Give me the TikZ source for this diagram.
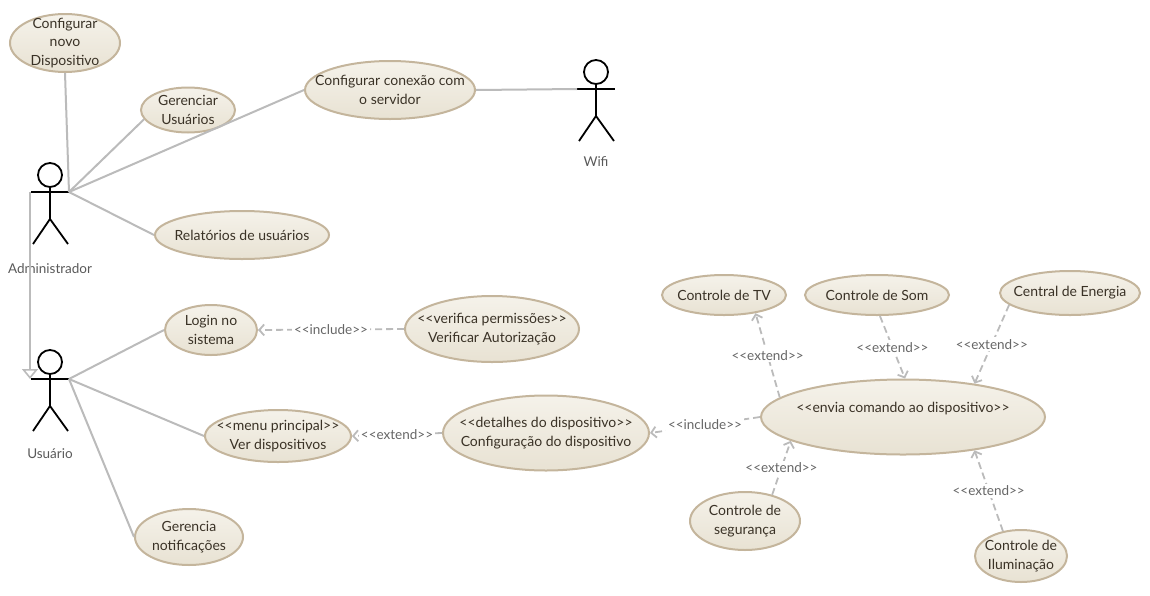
\documentclass[tikz,border=0pt]{standalone}
\usepackage{fontspec}
\setmainfont{Lato}
\usetikzlibrary{shapes.geometric,arrows.meta}

\definecolor{ucfilltop}{HTML}{F5F2EA}
\definecolor{ucfillbot}{HTML}{E8E2D3}
\definecolor{ucline}{HTML}{C4B59C}
\definecolor{uctext}{HTML}{3A3226}
\definecolor{linkgray}{HTML}{BBBBBB}
\definecolor{labelgray}{HTML}{666666}

\tikzset{
  % use case: an ellipse of a given size, text set as a centred label
  usecase/.style 2 args={ellipse, draw=ucline, line width=2pt,
    top color=ucfilltop, bottom color=ucfillbot, inner sep=0pt,
    minimum width=#1pt, minimum height=#2pt},
  uctext/.style={align=center, text=uctext, inner sep=0pt,
    font=\fontsize{14}{18.5}\selectfont},
  assoc/.style={draw=linkgray, line width=2pt},
  depend/.style={draw=linkgray, line width=1.8pt, dash pattern=on 7pt off 4pt,
    -{Straight Barb[length=5pt,width=11pt,line width=1.8pt]}},
  deplabel/.style={fill=white, inner sep=2pt, text=labelgray,
    font=\fontsize{13.5}{15}\selectfont},
  generalize/.style={draw=linkgray, line width=2pt,
    -{Triangle[open,length=10pt,width=16pt,line width=1.6pt,fill=white]}},
  actorline/.style={draw=black, line width=1.8pt},
  actorlabel/.style={text=black!65, font=\fontsize{13.5}{16}\selectfont},
  actor/.pic={
    \node[circle, actorline, minimum size=24pt, inner sep=0pt] (-head) at (0,12) {};
    \draw[actorline] (-head.south) -- (0,56);
    \draw[actorline] (-19,29) -- (19,29);
    \draw[actorline] (-17,81) -- (0,56) -- (18,81);
    \coordinate (-hand) at (19,29);
    \coordinate (-lhand) at (-19,29);
  }
}

\begin{document}
\begin{tikzpicture}[x=1pt,y=-1pt]
\useasboundingbox (0,0) rectangle (1150,595);

% actors
\pic (adm) at (50,163) {actor};
\node[actorlabel] (admlabel) at (50,269) {Administrador};
\pic (usr) at (50,350) {actor};
\node[actorlabel] (usrlabel) at (50,454) {Usuário};
\pic (wifi) at (596,60) {actor};
\node[actorlabel] (wifilabel) at (596,162) {Wifi};

% use cases
\node[usecase={110}{58}, label={[uctext]center:{Configurar\\novo\\Dispositivo}}] (novo) at (65,43) {};
\node[usecase={94}{45}, label={[uctext]center:{Gerenciar\\Usuários}}] (ger) at (188,110) {};
\node[usecase={170}{58}, label={[uctext]center:{Configurar conexão com\\o servidor}}] (conn) at (390,90) {};
\node[usecase={174}{48}, label={[uctext]center:{Relatórios de usuários}}] (rel) at (242,235) {};
\node[usecase={92}{50}, label={[uctext]center:{Login no\\sistema}}] (login) at (211,330) {};
\node[usecase={174}{66}, label={[uctext]center:{<{}<verifica permissões>{}>\\Verificar Autorização}}] (verif) at (492,329) {};
\node[usecase={146}{52}, label={[uctext]center:{<{}<menu principal>{}>\\Ver dispositivos}}] (ver) at (278,436) {};
\node[usecase={206}{75}, label={[uctext]center:{<{}<detalhes do dispositivo>{}>\\Configuração do dispositivo}}] (conf) at (546,433) {};
\node[usecase={108}{56}, label={[uctext]center:{Gerencia\\notificações}}] (notif) at (189,537) {};
\node[usecase={284}{75}, label={[uctext,yshift=8pt]center:{<{}<envia comando ao dispositivo>{}>}}] (envia) at (903,417) {};
\node[usecase={124}{40}, label={[uctext]center:{Controle de TV}}] (tv) at (724,295) {};
\node[usecase={144}{40}, label={[uctext]center:{Controle de Som}}] (som) at (877,295) {};
\node[usecase={140}{44}, label={[uctext]center:{Central de Energia}}] (energia) at (1070,293) {};
\node[usecase={110}{58}, label={[uctext]center:{Controle de\\segurança}}] (seg) at (745,521) {};
\node[usecase={92}{52}, label={[uctext]center:{Controle de\\Iluminação}}] (ilum) at (1021,556) {};

% associations
\draw[assoc] (adm-hand) -- (novo.south);
\draw[assoc] (adm-hand) -- (ger.192);
\draw[assoc] (adm-hand) -- (conn.west);
\draw[assoc] (adm-hand) -- (rel.west);
\draw[assoc] (conn.east) -- (wifi-lhand);
\draw[assoc] (usr-hand) -- (login.west);
\draw[assoc] (usr-hand) -- (ver.west);
\draw[assoc] (usr-hand) -- (notif.west);

% generalization
\draw[generalize] ([xshift=-1pt]adm-lhand) -- ([xshift=-1pt]usr-lhand);

% include / extend dependencies
\draw[depend] (verif.west) -- node[deplabel] {<{}<include>{}>} (login.east);
\draw[depend] (conf.west) -- node[deplabel] {<{}<extend>{}>} (ver.east);
\draw[depend] (envia.west) -- node[deplabel] {<{}<include>{}>} (conf.east);
\draw[depend] (envia.171) -- node[deplabel] {<{}<extend>{}>} (tv.330);
\draw[depend] (som.278) -- node[deplabel] {<{}<extend>{}>} (envia.87);
\draw[depend] (energia.191) -- node[deplabel] {<{}<extend>{}>} (envia.25);
\draw[depend] (seg.44) -- node[deplabel] {<{}<extend>{}>} (envia.192);
\draw[depend] (ilum.126) -- node[deplabel] {<{}<extend>{}>} (envia.335);
\end{tikzpicture}
\end{document}
